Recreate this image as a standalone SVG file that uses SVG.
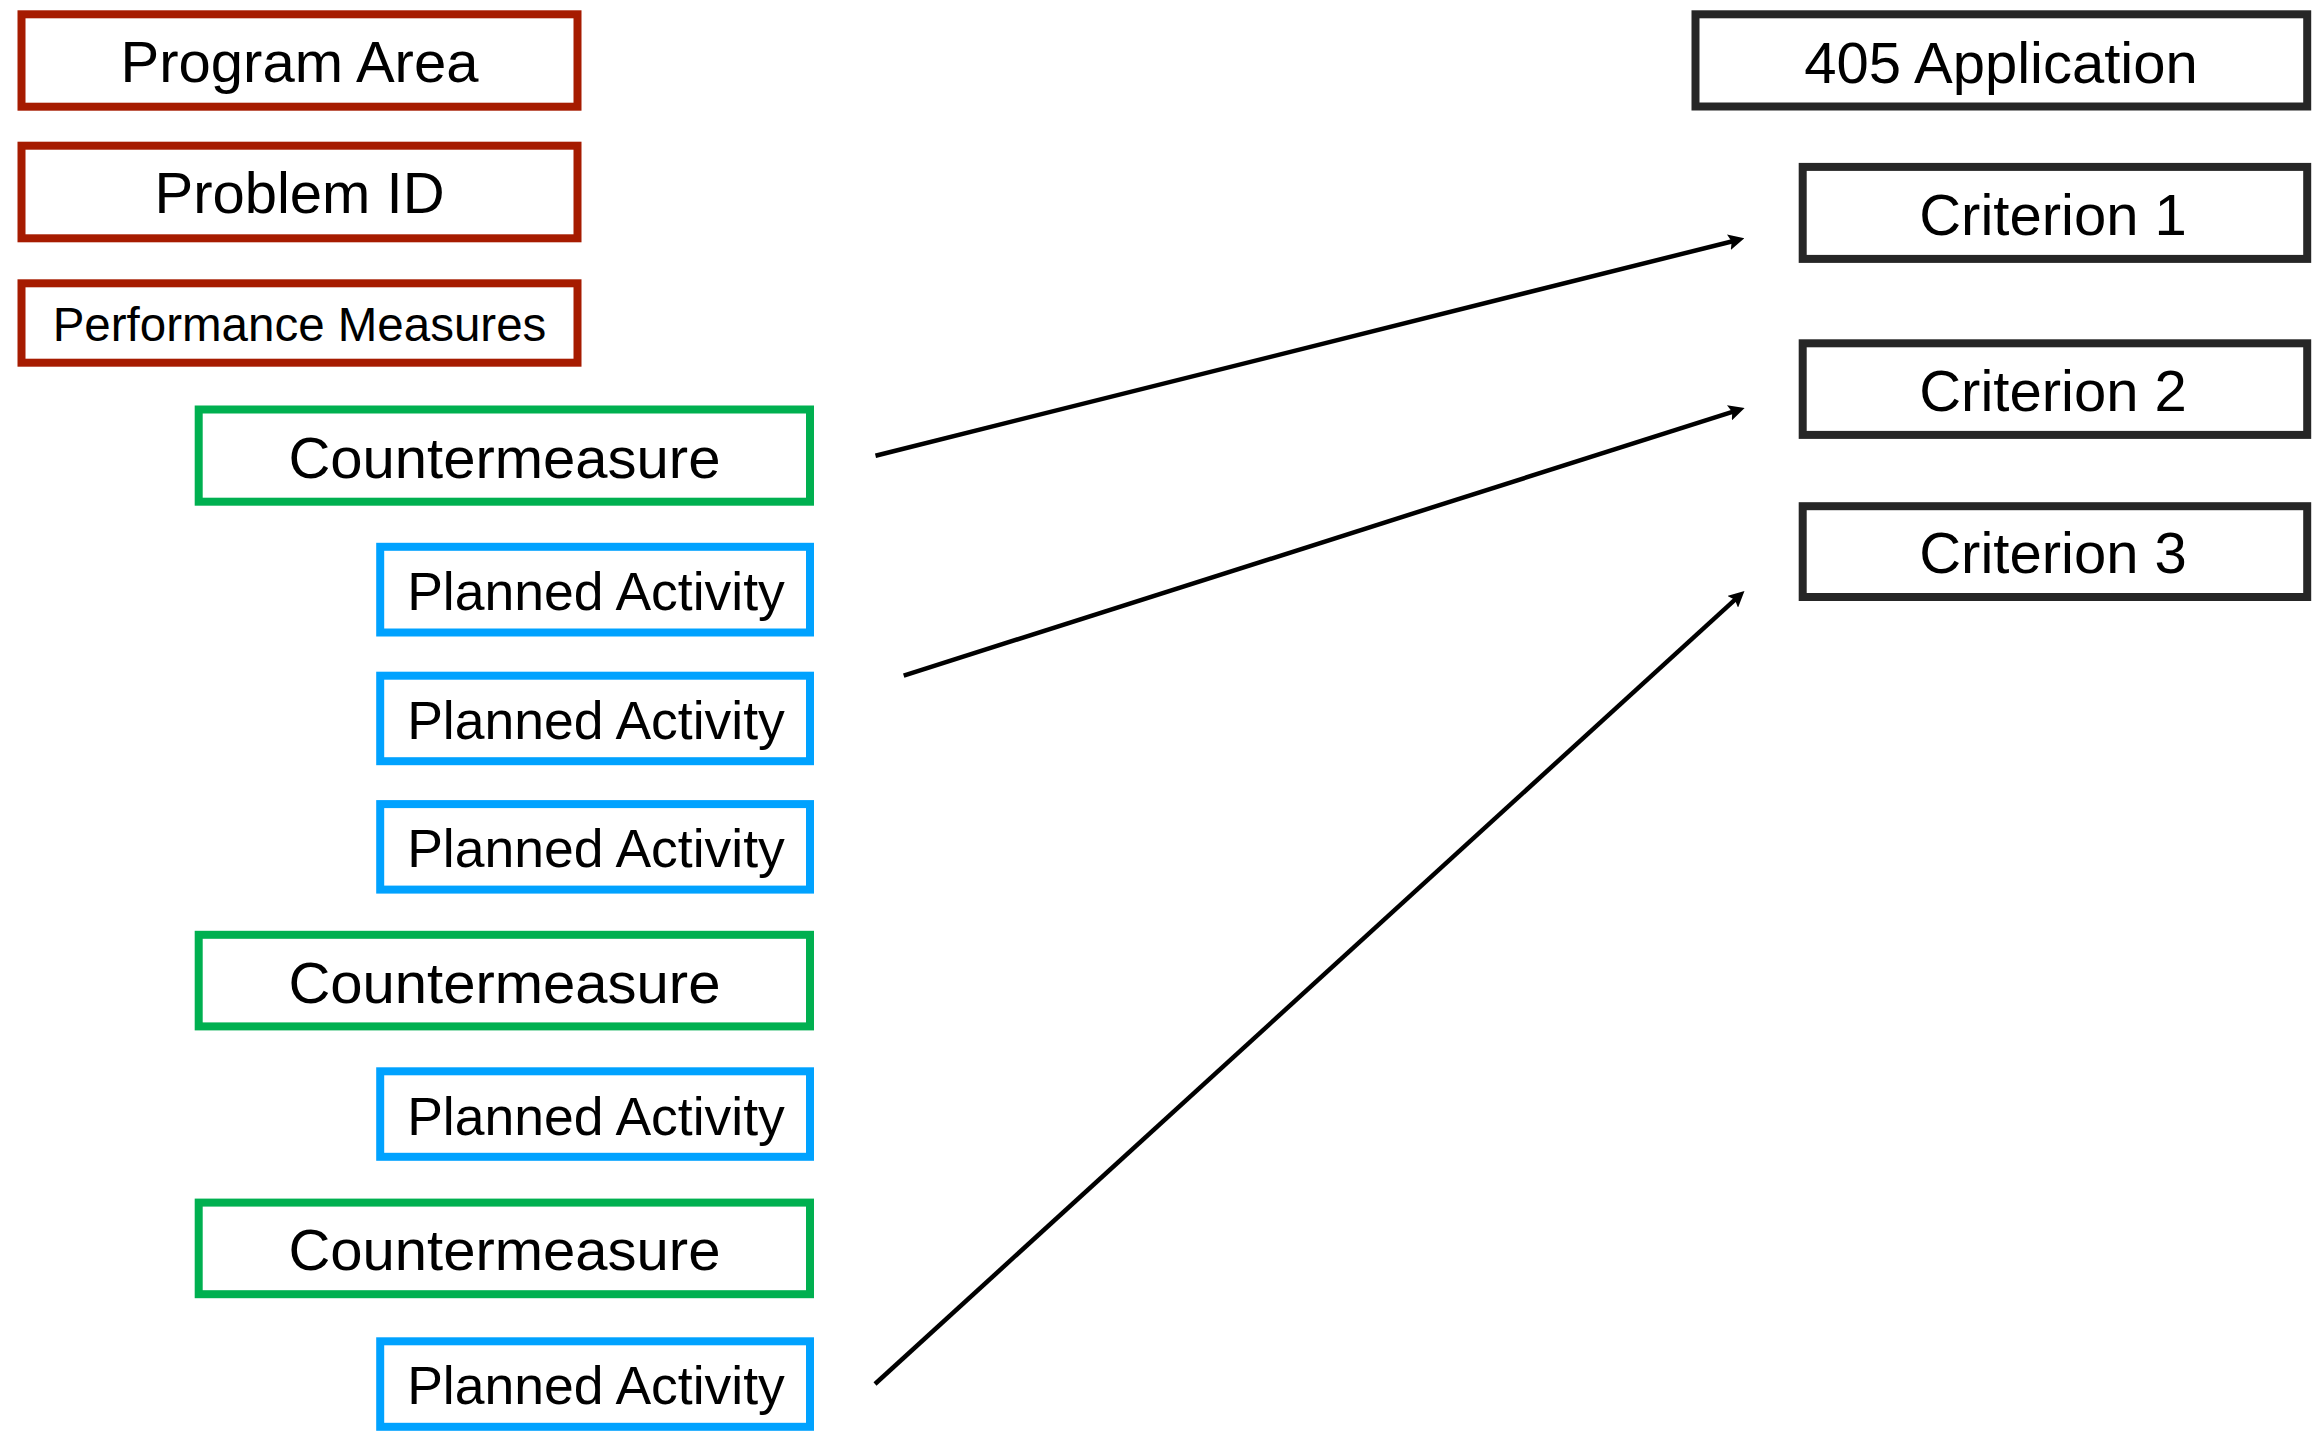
<svg xmlns="http://www.w3.org/2000/svg" width="2323" height="1435" viewBox="0 0 2323 1435">
<style>
  .box { fill: #ffffff; stroke-width: 8; }
  .red { stroke: #A61B00; }
  .green { stroke: #00B050; }
  .blue { stroke: #00A2FF; }
  .dark { stroke: #262626; }
  .lbl { font-family: "Liberation Sans", Arial, sans-serif; fill: #000000; text-anchor: middle; }
  .f58 { font-size: 58px; }
  .f53 { font-size: 53.5px; }
  .f47 { font-size: 47.5px; }
  .conn { stroke: #000000; stroke-width: 4.5; fill: none; marker-end: url(#arrow); }
</style>
<defs>
  <marker id="arrow" markerUnits="userSpaceOnUse" viewBox="0 0 16 16" markerWidth="16" markerHeight="16" refX="4" refY="8" orient="auto">
    <path d="M0,0 L16,8 L0,16 L3,8 Z" fill="#000000"/>
  </marker>
</defs>
<rect width="2323" height="1435" fill="#ffffff"/>

<g id="program-area">
  <rect class="box red" x="21.5" y="14.3" width="556" height="92.4"/>
  <text class="lbl f58" x="299.5" y="82.3">Program Area</text>
</g>
<g id="problem-id">
  <rect class="box red" x="21.5" y="145.7" width="556" height="92.6"/>
  <text class="lbl f58" x="299.5" y="213.3">Problem ID</text>
</g>
<g id="performance-measures">
  <rect class="box red" x="21.5" y="283.3" width="556" height="79.4"/>
  <text class="lbl f47" x="299.5" y="340.7">Performance Measures</text>
</g>

<g id="countermeasure-1">
  <rect class="box green" x="198.7" y="409.5" width="611.3" height="92.2"/>
  <text class="lbl f58" x="504.4" y="478.3">Countermeasure</text>
</g>
<g id="planned-activity-1">
  <rect class="box blue" x="380.2" y="546.8" width="429.8" height="85.7"/>
  <text class="lbl f53" x="596" y="610.2">Planned Activity</text>
</g>
<g id="planned-activity-2">
  <rect class="box blue" x="380.2" y="675.7" width="429.8" height="85.5"/>
  <text class="lbl f53" x="596" y="738.9">Planned Activity</text>
</g>
<g id="planned-activity-3">
  <rect class="box blue" x="380.2" y="804.1" width="429.8" height="85.5"/>
  <text class="lbl f53" x="596" y="867.3">Planned Activity</text>
</g>
<g id="countermeasure-2">
  <rect class="box green" x="198.7" y="934.8" width="611.3" height="91.6"/>
  <text class="lbl f58" x="504.4" y="1002.8">Countermeasure</text>
</g>
<g id="planned-activity-4">
  <rect class="box blue" x="380.2" y="1071.3" width="429.8" height="85.5"/>
  <text class="lbl f53" x="596" y="1134.5">Planned Activity</text>
</g>
<g id="countermeasure-3">
  <rect class="box green" x="198.7" y="1202.6" width="611.3" height="91.6"/>
  <text class="lbl f58" x="504.4" y="1269.5">Countermeasure</text>
</g>
<g id="planned-activity-5">
  <rect class="box blue" x="380.2" y="1341.3" width="429.8" height="85.5"/>
  <text class="lbl f53" x="596" y="1404.3">Planned Activity</text>
</g>

<g id="application-405">
  <rect class="box dark" x="1695.5" y="14.3" width="611.7" height="92.2"/>
  <text class="lbl f58" x="2001" y="83">405 Application</text>
</g>
<g id="criterion-1">
  <rect class="box dark" x="1802.7" y="166.9" width="504.5" height="92"/>
  <text class="lbl f58" x="2053" y="235.3">Criterion 1</text>
</g>
<g id="criterion-2">
  <rect class="box dark" x="1802.7" y="343.3" width="504.5" height="91.6"/>
  <text class="lbl f58" x="2053" y="410.5">Criterion 2</text>
</g>
<g id="criterion-3">
  <rect class="box dark" x="1802.7" y="506.2" width="504.5" height="90.8"/>
  <text class="lbl f58" x="2053" y="573.4">Criterion 3</text>
</g>

<g id="connectors">
  <line class="conn" x1="875.5" y1="455.7" x2="1732.7" y2="241.2"/>
  <line class="conn" x1="903.7" y1="675.6" x2="1733.2" y2="411.6"/>
  <line class="conn" x1="875" y1="1384" x2="1735.6" y2="599.1"/>
</g>
</svg>
